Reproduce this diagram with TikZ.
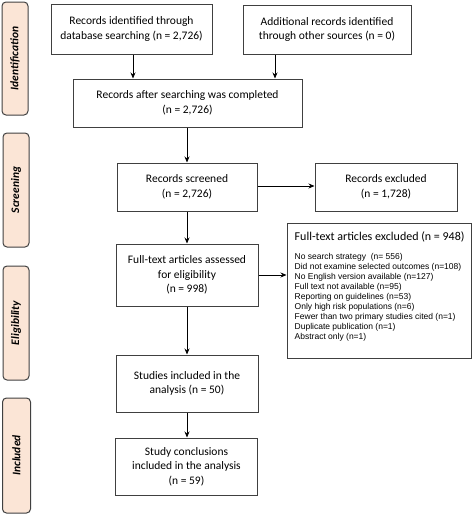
\documentclass[tikz,border=0pt]{standalone}
\usepackage{fontspec}
\setmainfont{Carlito}
\newfontfamily\arialf{Liberation Sans}
\usetikzlibrary{arrows.meta,calc}
\definecolor{peach}{HTML}{FBE5D6}
\definecolor{edge}{HTML}{404040}
\tikzset{
  box/.style={draw=edge, line width=1pt, fill=white, align=center, font=\fontsize{11.5}{14.5}\selectfont, inner sep=2pt},
  phase/.style={draw=edge, line width=1pt, fill=peach, rounded corners=4pt, rotate=90, font=\fontsize{11.5}{13}\selectfont\bfseries\itshape, inner sep=0pt},
  arr/.style={draw=black, line width=0.8pt, -{Stealth[length=6pt,width=5pt]}}
}
\begin{document}
\begin{tikzpicture}[x=1pt,y=-1pt]
\useasboundingbox (0,0) rectangle (472,514);
% phase labels
\node[phase, minimum width=113, minimum height=26] (pid) at (15,58.5) {Identification};
\node[phase, minimum width=114, minimum height=26] (psc) at (16,190) {Screening};
\node[phase, minimum width=114, minimum height=26] (pel) at (16,323) {Eligibility};
\node[phase, minimum width=115, minimum height=28] (pin) at (16.5,455.5) {Included};
% boxes
\node[box, minimum width=161, minimum height=50] (b1) at (131.5,29) {Records identified through\\database searching (n = 2,726)};
\node[box, minimum width=168, minimum height=49] (b2) at (327,29.5) {Additional records identified\\through other sources (n = 0)};
\node[box, minimum width=229, minimum height=48] (b3) at (187.5,103) {Records after searching was completed\\(n = 2,726)};
\node[box, minimum width=140, minimum height=48] (scr) at (187,187) {Records screened\\(n = 2,726)};
\node[box, minimum width=142, minimum height=48] (exc) at (386,187) {Records excluded\\(n = 1,728)};
\node[box, minimum width=142, minimum height=62] (ass) at (187,275) {Full-text articles assessed\\for eligibility\\(n = 998)};
\node[box, minimum width=184, minimum height=135] (ex2) at (379,290.5) {};
\node[anchor=north west, inner sep=0pt, font=\fontsize{12}{14}\selectfont] (ex2t) at ([xshift=8,yshift=-9]ex2.north west) {Full-text articles excluded (n = 948)};
\node[anchor=north west, inner sep=0pt, align=left, font=\arialf\fontsize{8.5}{9.9}\selectfont] (ex2l) at ([xshift=8,yshift=-31]ex2.north west) {No search strategy\ \ (n= 556)\\Did not examine selected outcomes (n=108)\\No English version available (n=127)\\Full text not available (n=95)\\Reporting on guidelines (n=53)\\Only high risk populations (n=6)\\Fewer than two primary studies cited (n=1)\\Duplicate publication (n=1)\\Abstract only (n=1)};
\node[box, minimum width=142, minimum height=57] (stu) at (187,383.5) {Studies included in the\\analysis (n = 50)};
\node[box, minimum width=142, minimum height=57] (con) at (186.5,466.5) {Study conclusions\\included in the analysis\\(n = 59)};
% arrows
\draw[arr] ([xshift=1.5]b1.south) -- ([xshift=1.5]b1.south |- b3.north);
\draw[arr] ([xshift=-52]b2.south) -- ([xshift=-52]b2.south |- b3.north);
\draw[arr] (b3.south -| scr.north) -- (scr.north);
\draw[arr] ([yshift=1]scr.east) -- ([yshift=1]scr.east -| exc.west);
\draw[arr] (scr.south) -- (ass.north);
\draw[arr] (ass.east) -- (ass.east -| ex2.west);
\draw[arr] (ass.south) -- (stu.north);
\draw[arr] (stu.south) -- (stu.south |- con.north);
\end{tikzpicture}
\end{document}
